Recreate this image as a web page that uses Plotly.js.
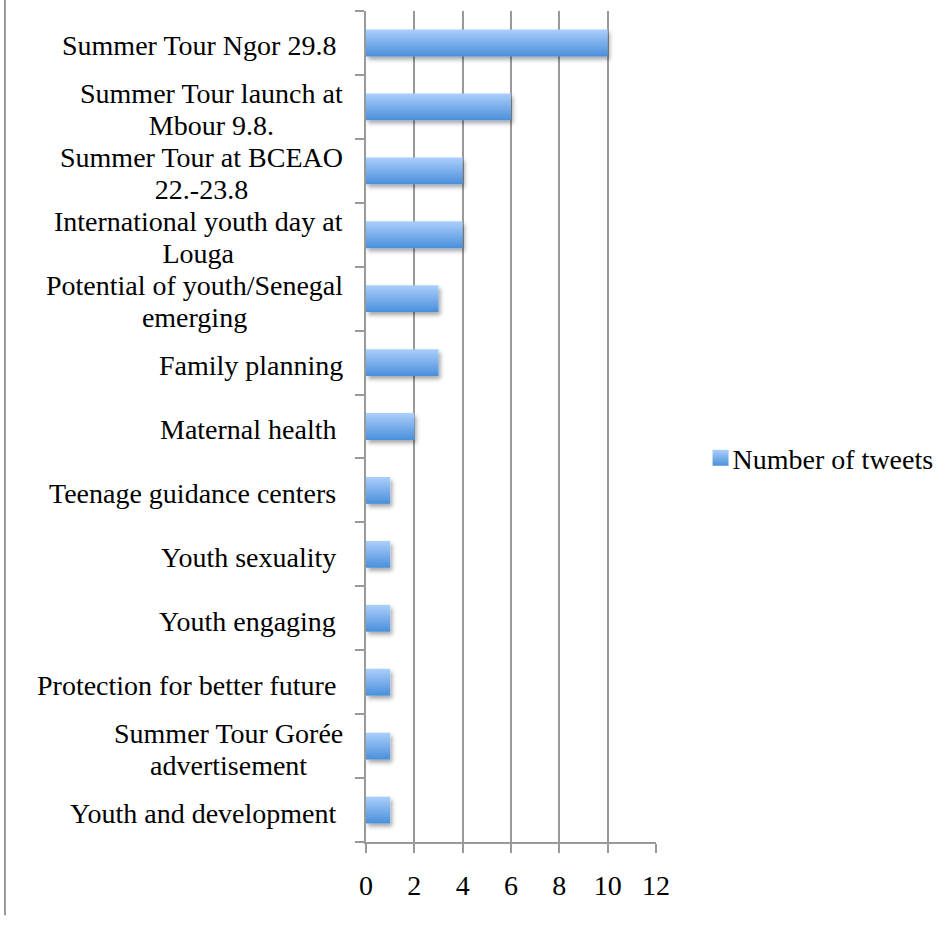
<!DOCTYPE html>
<html>
<head>
<meta charset="utf-8">
<script src="https://cdn.plot.ly/plotly-3.0.1.min.js"></script>
<style>
  html, body { margin: 0; padding: 0; background: #fff; }
  #chart { width: 952px; height: 925px; }
</style>
</head>
<body>
<div id="chart"></div>
<script>
// Categories, top to bottom
const categories = [
  "Summer Tour Ngor 29.8\u00a0",
  "Summer Tour launch at<br>Mbour 9.8.",
  "Summer Tour at BCEAO<br>22.-23.8",
  "International youth day at<br>Louga",
  "Potential of youth/Senegal<br>emerging",
  "Family planning",
  "Maternal health\u00a0",
  "Teenage guidance centers\u00a0",
  "Youth sexuality\u00a0",
  "Youth engaging\u00a0",
  "Protection for better future\u00a0",
  "Summer Tour Gorée<br>advertisement",
  "Youth and development\u00a0"
];
const tweets = [10, 6, 4, 4, 3, 3, 2, 1, 1, 1, 1, 1, 1];
const seriesName = "Number of tweets";
const xTicks = [0, 2, 4, 6, 8, 10, 12];

const FONT = "Liberation Serif, Times New Roman, serif";
const FS = 28;
const idx = categories.map((_, i) => i);

const trace = {
  type: "bar",
  orientation: "h",
  x: tweets,
  y: idx,
  name: seriesName,
  marker: { color: "#74aaea", line: { width: 0 } },
  hoverinfo: "x"
};

const annotations = categories.map((c, i) => ({
  xref: "paper", yref: "y",
  x: 0, y: i,
  xanchor: "right", yanchor: "middle",
  xshift: -21,
  yshift: -3,
  text: c,
  align: "center",
  showarrow: false,
  font: { family: FONT, size: FS, color: "#000" }
}));

const layout = {
  width: 952, height: 925,
  margin: { l: 366, r: 296, t: 11, b: 83 },
  paper_bgcolor: "#fff",
  plot_bgcolor: "#fff",
  font: { family: FONT, size: FS, color: "#000" },
  bargap: 0.58,
  showlegend: true,
  legend: {
    x: 1.126, xanchor: "left", y: 0.462, yanchor: "middle",
    font: { family: FONT, size: FS, color: "#000" },
    bgcolor: "rgba(0,0,0,0)"
  },
  xaxis: {
    range: [0, 12],
    tickvals: xTicks,
    ticktext: xTicks.map(String),
    showgrid: true, gridcolor: "#999", gridwidth: 2,
    zeroline: false,
    showline: true, linecolor: "#999", linewidth: 2,
    ticks: "outside", ticklen: 9, tickcolor: "#999", tickwidth: 2,
    ticklabelstandoff: 8,
    tickfont: { family: FONT, size: FS, color: "#000" },
    fixedrange: true
  },
  yaxis: {
    type: "linear",
    range: [categories.length - 0.5, -0.5],
    tickvals: idx.map(i => i - 0.5).concat([categories.length - 0.5]),
    showticklabels: false,
    showgrid: false,
    zeroline: false,
    showline: true, linecolor: "#999", linewidth: 2,
    ticks: "outside", ticklen: 9, tickcolor: "#999", tickwidth: 2,
    fixedrange: true
  },
  annotations: annotations,
  shapes: [{
    type: "line", xref: "paper", yref: "paper",
    x0: -1.245, x1: -1.245, y0: 1.02, y1: -0.088,
    line: { color: "#999", width: 2 }
  }]
};

Plotly.newPlot("chart", [trace], layout, { staticPlot: true }).then(gd => {
  const svg = gd.querySelector("svg.main-svg");
  const NS = "http://www.w3.org/2000/svg";
  let defs = svg.querySelector("defs");
  if (!defs) { defs = document.createElementNS(NS, "defs"); svg.insertBefore(defs, svg.firstChild); }
  const grad = document.createElementNS(NS, "linearGradient");
  grad.setAttribute("id", "barGrad");
  grad.setAttribute("x1", "0"); grad.setAttribute("y1", "0");
  grad.setAttribute("x2", "0"); grad.setAttribute("y2", "1");
  [["0", "#abcffb"], ["1", "#4a8fdb"]].forEach(([o, c]) => {
    const s = document.createElementNS(NS, "stop");
    s.setAttribute("offset", o); s.setAttribute("stop-color", c);
    grad.appendChild(s);
  });
  defs.appendChild(grad);
  const filt = document.createElementNS(NS, "filter");
  filt.setAttribute("id", "barShadow");
  filt.setAttribute("x", "-20%"); filt.setAttribute("y", "-30%");
  filt.setAttribute("width", "150%"); filt.setAttribute("height", "190%");
  const ds = document.createElementNS(NS, "feDropShadow");
  ds.setAttribute("dx", "2"); ds.setAttribute("dy", "3");
  ds.setAttribute("stdDeviation", "2");
  ds.setAttribute("flood-color", "#000"); ds.setAttribute("flood-opacity", "0.35");
  filt.appendChild(ds);
  defs.appendChild(filt);
  gd.querySelectorAll(".bars .point path").forEach(p => {
    p.style.fill = "url(#barGrad)";
    p.setAttribute("filter", "url(#barShadow)");
  });
  gd.querySelectorAll(".legendpoints path").forEach(p => {
    p.setAttribute("d", "M8,8H-8V-8H8Z");
    p.setAttribute("transform", "translate(28,0)");
    p.style.fill = "url(#barGrad)";
    p.style.stroke = "none";
  });
  // tighten multi-line label spacing (reference ~1.14em)
  gd.querySelectorAll(".annotation-text").forEach(t => {
    const lines = t.querySelectorAll("tspan.line");
    if (lines.length === 2) {
      lines[0].setAttribute("dy", "0.08em");
      lines[1].setAttribute("dy", "1.22em");
    }
  });
});
</script>
</body>
</html>
